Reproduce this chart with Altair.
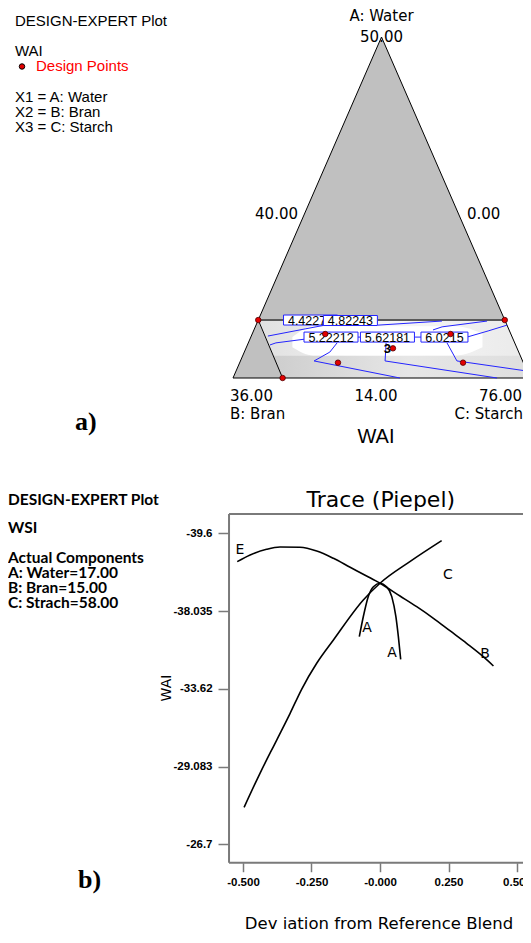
import json
import altair as alt
import numpy as np
import pandas as pd

# ================= a) ternary contour plot of WAI =================
# compositions read as fractions of the simplex: A = water, C = starch, B = bran = 1 - A - C
tri_water = [0.0, 1.0, 0.0, 0.0]
tri_starch = [0.0, 0.0, 1.0, 0.0]

# constrained region corners: top-left, bottom-left, top-right, bottom-right
region_water = [0.17, 0.0, 0.17, 0.0]
region_starch = [0.0, 0.167, 0.83, 1.0]

point_water = [0.17, 0.17, 0.0, 0.0, 0.129, 0.129, 0.045, 0.045, 0.087]
point_starch = [0.0, 0.83, 0.167, 1.0, 0.246, 0.668, 0.331, 0.752, 0.495]
point_label = ["", "", "", "", "", "", "", "", "3"]

contour_water = [
    [0.123, 0.144, 0.155],
    [0.097, 0.103, 0.114],
    [0.155, 0.167],
    [0.120, 0.120],
    [0.120, 0.120],
    [0.103, 0.076, 0.050, 0.0],
    [0.103, 0.050, 0.0],
    [0.103, 0.050, 0.0205],
    [0.141, 0.150, 0.167],
    [0.120, 0.138, 0.155],
]
contour_starch = [
    [0.056, 0.171, 0.232],
    [0.076, 0.093, 0.185],
    [0.41, 0.62],
    [0.357, 0.368],
    [0.553, 0.576],
    [0.299, 0.288, 0.248, 0.562],
    [0.464, 0.487, 0.889],
    [0.669, 0.729, 0.979],
    [0.603, 0.629, 0.772],
    [0.728, 0.790, 0.845],
]

level_text = ["4.42274", "4.82243", "5.22212", "5.62181", "6.0215"]
level_water = [0.170, 0.1686, 0.120, 0.120, 0.120]
level_starch = [0.176, 0.311, 0.270, 0.460, 0.652]

# shading of the predicted surface: ternary x, upper / lower water fraction
band_x = [0.0825, 0.1345, 0.915, 0.9675]
band_hi = [0.17, 0.17, 0.17, 0.065]
band_lo = [0.17, 0.065, 0.065, 0.065]
core_x = [0.20, 0.27, 0.75, 0.84]
core_hi = [0.12, 0.152, 0.152, 0.13]
core_lo = [0.09, 0.066, 0.066, 0.09]

# ================= b) trace (Piepel) plot =================
wai_ticks = [-39.6, -38.035, -33.62, -29.083, -26.7]
dev_ticks = [-0.5, -0.25, 0.0, 0.25, 0.5]
dev_labels = ["-0.500", "-0.250", "-0.000", "0.250", "0.500"]

trace_EB_dev = [-0.521, -0.474, -0.414, -0.365, -0.292, -0.231, -0.170, -0.109, -0.049, 0.0,
                0.073, 0.134, 0.195, 0.255, 0.316, 0.377, 0.414]
trace_EB_wai = [-39.029, -39.163, -39.278, -39.324, -39.318, -39.243, -39.096, -38.916, -38.741,
                -38.594, -38.338, -38.123, -37.624, -36.918, -36.203, -35.443, -34.914]
trace_C_dev = [-0.496, -0.438, -0.377, -0.328, -0.286, -0.231, -0.170, -0.061, 0.0, 0.109, 0.225]
trace_C_wai = [-27.834, -28.876, -30.630, -32.191, -33.593, -35.068, -36.391, -38.257, -38.594,
               -39.029, -39.451]
trace_A_dev = [-0.0755, -0.061, -0.043, -0.024, 0.0, 0.024, 0.043, 0.058, 0.067, 0.0755]
trace_A_wai = [-36.578, -37.713, -38.325, -38.525, -38.594, -38.525, -38.325, -37.713, -36.578,
               -35.293]

letter_text = ["E", "C", "A", "A", "B"]
letter_dev = [-0.511, 0.248, -0.047, 0.044, 0.383]
letter_wai = [-39.264, -38.761, -37.073, -35.651, -35.594]

# frame of the trace plot (dev units, axis-position units)
frame_dev = [-0.551, 0.56]
frame_pos = [-0.248, 4.237]

# ================= layout =================
W, H = 515, 927
tri_left, tri_base_y, tri_w, tri_h = 225, 370, 297, 341
TX = alt.Scale(domain=[-tri_left / tri_w, (W - tri_left) / tri_w], nice=False, zero=False)
TY = alt.Scale(domain=[-(H - tri_base_y) / tri_h, tri_base_y / tri_h], nice=False, zero=False)

zero_x, px_dev, top0, px_tick = 372, 274, 525.3, 77.75
DX = alt.Scale(domain=[-zero_x / px_dev, (W - zero_x) / px_dev], nice=False, zero=False)
DY = alt.Scale(domain=[-top0 / px_tick, (H - top0) / px_tick], nice=False, zero=False, reverse=True)

BLUE = "#2424ff"


def tern(water, starch):
    w = np.asarray(water, float)
    s = np.asarray(starch, float)
    return s + w / 2.0, w


def txt(s, x, y, size=15, font="Liberation Sans", align="left", color="black",
        weight="normal", angle=0, baseline="alphabetic"):
    return alt.Chart(pd.DataFrame({"t": [s]})).mark_text(
        align=align, baseline=baseline, fontSize=size, font=font, color=color,
        fontWeight=weight, angle=angle,
    ).encode(x=alt.value(x), y=alt.value(y), text="t:N")


X_T = lambda: alt.X("tx:Q", scale=TX, axis=None)
Y_T = lambda: alt.Y("ty:Q", scale=TY, axis=None)

# ---- ternary data frames
tx, ty = tern(tri_water[:3], tri_starch[:3])
tri_area = pd.DataFrame({"tx": tx, "ty": ty, "lo": 0.0})
tx, ty = tern(tri_water, tri_starch)
tri_outline = pd.DataFrame({"tx": tx, "ty": ty, "seq": range(len(tx))})

rx, ry = tern(region_water, region_starch)
region = pd.DataFrame({"tx": rx, "ty": [ry[0], ry[0], ry[2], ry[3]], "lo": [ry[0], ry[1], ry[3], ry[3]]})
region_left = pd.DataFrame({"tx": rx[:2], "ty": ry[:2], "seq": [0, 1]})
region_top = pd.DataFrame({"tx": [rx[0], rx[2]], "ty": [ry[0], ry[2]], "seq": [0, 1]})

band = pd.DataFrame({"tx": band_x, "ty": band_hi, "lo": band_lo})
core = pd.DataFrame({"tx": core_x, "ty": core_hi, "lo": core_lo})

rows = []
for k, (ws, ss) in enumerate(zip(contour_water, contour_starch)):
    cx, cy = tern(ws, ss)
    for j in range(len(cx)):
        rows.append({"seg": k, "seq": j, "tx": cx[j], "ty": cy[j]})
contours = pd.DataFrame(rows)

px_, py_ = tern(point_water, point_starch)
points = pd.DataFrame({"tx": px_, "ty": py_, "lab": point_label})

gray_grad = lambda stops: alt.Gradient(
    gradient="linear", x1=0, x2=1, y1=0, y2=0,
    stops=[alt.GradientStop(color=c, offset=o) for c, o in stops])

tern_layers = [
    alt.Chart(tri_area).mark_area(color="#c0c0c0").encode(x=X_T(), y=Y_T(), y2="lo:Q"),
    alt.Chart(region).mark_area(color=gray_grad([("#cbcbcb", 0), ("#e6e6e6", 0.55), ("#dedede", 1)]))
    .encode(x=X_T(), y=Y_T(), y2="lo:Q"),
    alt.Chart(band).mark_area(color=gray_grad([("#e0e0e0", 0), ("#f6f6f6", 0.5), ("#ebebeb", 1)]))
    .encode(x=X_T(), y=Y_T(), y2="lo:Q"),
    alt.Chart(core).mark_area(color="#ffffff", interpolate="monotone").encode(x=X_T(), y=Y_T(), y2="lo:Q"),
    alt.Chart(region_top).mark_line(color="#5a5a5a", strokeWidth=2)
    .encode(x=X_T(), y=Y_T(), order="seq:Q"),
    alt.Chart(region_left).mark_line(color="black", strokeWidth=1)
    .encode(x=X_T(), y=Y_T(), order="seq:Q"),
    alt.Chart(tri_outline).mark_line(color="black", strokeWidth=1)
    .encode(x=X_T(), y=Y_T(), order="seq:Q"),
    alt.Chart(contours).mark_line(color=BLUE, strokeWidth=1)
    .encode(x=X_T(), y=Y_T(), detail="seg:N", order="seq:Q"),
]

S = 60
for lt, lw, ls in zip(level_text, level_water, level_starch):
    bx, by = tern([lw], [ls])
    d = pd.DataFrame({"tx": bx, "ty": by, "t": [lt]})
    w = 7.0 * len(lt) + 5
    path = f"M{-w / S:.4f},{-10 / S:.4f}H{w / S:.4f}V{10 / S:.4f}H{-w / S:.4f}Z"
    tern_layers.append(
        alt.Chart(d).mark_point(shape=path, size=S * S, filled=True, fill="white", stroke=BLUE,
                                strokeWidth=1, opacity=1, fillOpacity=1, strokeOpacity=1)
        .encode(x=X_T(), y=Y_T()))
    tern_layers.append(
        alt.Chart(d).mark_text(font="Liberation Sans", fontSize=12.5, baseline="middle", dy=0.5,
                               color="black")
        .encode(x=X_T(), y=Y_T(), text="t:N"))

tern_layers += [
    alt.Chart(points).mark_point(filled=True, fill="#e40000", stroke="#500000", strokeWidth=0.8,
                                 size=30, opacity=1, shape="circle")
    .encode(x=X_T(), y=Y_T()),
    alt.Chart(points).mark_text(font="Liberation Sans", fontSize=13, fontWeight="bold",
                                align="right", baseline="middle", dx=-2, dy=1, color="black")
    .encode(x=X_T(), y=Y_T(), text="lab:N"),
]

# annotations of panel a
tern_layers += [
    txt("DESIGN-EXPERT Plot", 7, 17.5),
    txt("WAI", 7, 47.5),
    alt.Chart(pd.DataFrame({"t": ["Design Points"]})).mark_point(
        filled=True, fill="#e40000", stroke="black", strokeWidth=1, size=30, opacity=1, shape="circle")
    .encode(x=alt.value(14), y=alt.value(58.5)),
    txt("Design Points", 28, 62.5, color="#ff0000"),
    txt("X1 = A: Water", 7, 93.5),
    txt("X2 = B: Bran", 7, 108.5),
    txt("X3 = C: Starch", 7, 123.5),
    txt("A: Water", 373.5, 12.7, size=15, font="DejaVu Sans", align="center"),
    txt("50.00", 373.5, 33.7, size=15, font="DejaVu Sans", align="center"),
    txt("40.00", 290, 211.3, size=15, font="DejaVu Sans", align="right"),
    txt("0.00", 459, 211.3, size=15, font="DejaVu Sans"),
    txt("36.00", 222, 392.7, size=15, font="DejaVu Sans"),
    txt("B: Bran", 222, 411, size=15, font="DejaVu Sans"),
    txt("14.00", 368, 392.7, size=15, font="DejaVu Sans", align="center"),
    txt("76.00", 514, 392.7, size=15, font="DejaVu Sans", align="right"),
    txt("C: Starch", 515, 411, size=15, font="DejaVu Sans", align="right"),
    txt("WAI", 368, 435, size=20, align="center"),
    txt("a)", 67, 422, size=26, font="Liberation Serif", weight="bold"),
]

tern_chart = alt.layer(*tern_layers)

# ---- trace plot data
def to_pos(wai):
    return np.interp(np.asarray(wai, float), wai_ticks, np.arange(len(wai_ticks)))

curves = pd.concat([
    pd.DataFrame({"curve": name, "seq": range(len(d)), "dev": d, "pos": to_pos(v)})
    for name, d, v in [("EB", trace_EB_dev, trace_EB_wai), ("C", trace_C_dev, trace_C_wai),
                       ("A", trace_A_dev, trace_A_wai)]
])
letters = pd.DataFrame({"t": letter_text, "dev": letter_dev, "pos": to_pos(letter_wai)})

y_labels = json.dumps([str(v) for v in wai_ticks])
x_vals = json.dumps(dev_ticks)
x_labs = json.dumps(dev_labels)

AX_X = alt.Axis(values=dev_ticks, orient="bottom", offset=-(H - (frame_pos[1] * px_tick + top0)),
                domain=False, grid=False, tickSize=9, tickColor="#7a7a7a", tickWidth=1.5,
                labelExpr=f"{x_labs}[indexof({x_vals}, datum.value)]",
                labelFont="Liberation Sans", labelFontSize=11.5, labelFontWeight="bold",
                labelColor="black", labelPadding=5, title=None)
AX_Y = alt.Axis(values=list(range(len(wai_ticks))), orient="left", offset=-(zero_x + frame_dev[0] * px_dev),
                domain=False, grid=False, tickSize=11, tickColor="#7a7a7a", tickWidth=1.5,
                labelExpr=f"{y_labels}[datum.value]", labelFont="Liberation Sans",
                labelFontSize=11.5, labelFontWeight="bold", labelColor="black", labelPadding=6,
                title=None)

X_D = lambda f="dev": alt.X(f"{f}:Q", scale=DX, axis=AX_X)
Y_D = lambda f="pos": alt.Y(f"{f}:Q", scale=DY, axis=AX_Y)

frame = pd.DataFrame({"dev": [frame_dev[0], frame_dev[0], frame_dev[0]],
                      "dev2": [frame_dev[0], frame_dev[1], frame_dev[1]],
                      "pos": [frame_pos[0], frame_pos[0], frame_pos[1]],
                      "pos2": [frame_pos[1], frame_pos[0], frame_pos[1]]})

trace_layers = [
    alt.Chart(frame).mark_rule(color="#7a7a7a", strokeWidth=2)
    .encode(x=X_D(), x2="dev2:Q", y=Y_D(), y2="pos2:Q"),
    alt.Chart(curves).mark_line(color="black", strokeWidth=1.6, interpolate="monotone")
    .encode(x=X_D(), y=Y_D(), detail="curve:N", order="seq:Q"),
    alt.Chart(letters).mark_text(font="DejaVu Sans", fontSize=14, baseline="middle", color="black")
    .encode(x=X_D(), y=Y_D(), text="t:N"),
    txt("DESIGN-EXPERT Plot", 0, 497, size=15.5, font="Lato", weight="bold"),
    txt("WSI", 0, 525.3, size=15.5, font="Lato", weight="bold"),
    txt("Actual Components", 0, 555.3, size=15.5, font="Lato", weight="bold"),
    txt("A: Water=17.00", 0, 570.3, size=15.5, font="Lato", weight="bold"),
    txt("B: Bran=15.00", 0, 585.3, size=15.5, font="Lato", weight="bold"),
    txt("C: Strach=58.00", 0, 600.3, size=15.5, font="Lato", weight="bold"),
    txt("Trace (Piepel)", 372.8, 498.7, size=22, font="DejaVu Sans", align="center"),
    txt("WAI", 159, 680, size=14, font="DejaVu Sans", align="center", angle=270, baseline="middle"),
    txt("Dev iation from Reference Blend", 371, 921, size=16.5, font="DejaVu Sans", align="center"),
    txt("b)", 70, 880, size=26, font="Liberation Serif", weight="bold"),
]

trace_chart = alt.layer(*trace_layers)

chart = (
    alt.layer(tern_chart, trace_chart)
    .resolve_scale(x="independent", y="independent")
    .properties(width=W, height=H, padding=0, background="white",
                autosize=alt.AutoSizeParams(type="none"))
    .configure_view(stroke=None)
)

chart.save("out.html", embed_options={"renderer": "svg", "actions": False})
